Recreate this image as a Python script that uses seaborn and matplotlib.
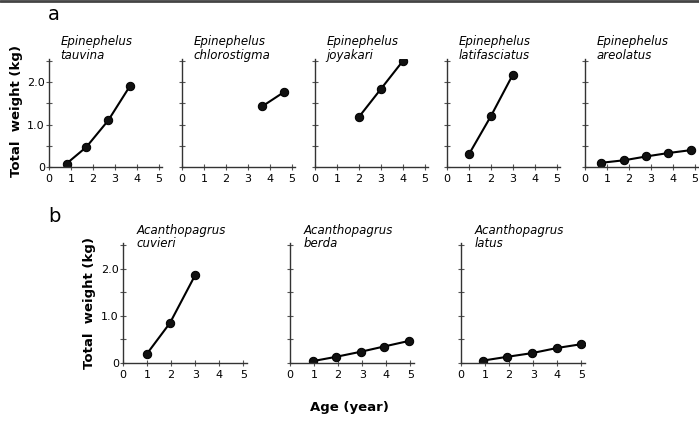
import numpy as np
import pandas as pd
import matplotlib
matplotlib.use("Agg")
import matplotlib.pyplot as plt
from matplotlib.lines import Line2D
import seaborn as sns

sns.set_style("ticks")
plt.rcParams['font.family'] = ['DejaVu Sans']
plt.rcParams['text.color'] = 'black'
plt.rcParams['xtick.color'] = 'black'
plt.rcParams['ytick.color'] = 'black'

# row a: Epinephelus
species_a = ["Epinephelus\ntauvina", "Epinephelus\nchlorostigma", "Epinephelus\njoyakari",
             "Epinephelus\nlatifasciatus", "Epinephelus\nareolatus"]
age_a = [
    [0.8, 1.7, 2.7, 3.7],
    [3.65, 4.65],
    [2, 3, 4],
    [1, 2, 3],
    [0.75, 1.8, 2.8, 3.8, 4.85],
]
weight_a = [
    [0.08, 0.47, 1.1, 1.92],
    [1.43, 1.77],
    [1.18, 1.84, 2.5],
    [0.3, 1.2, 2.18],
    [0.1, 0.16, 0.25, 0.33, 0.4],
]

# row b: Acanthopagrus
species_b = ["Acanthopagrus\ncuvieri", "Acanthopagrus\nberda", "Acanthopagrus\nlatus"]
age_b = [
    [1, 1.95, 3],
    [0.95, 1.9, 2.95, 3.9, 4.95],
    [0.9, 1.9, 2.95, 4.0, 5.0],
]
weight_b = [
    [0.2, 0.85, 1.87],
    [0.04, 0.13, 0.24, 0.35, 0.47],
    [0.05, 0.13, 0.21, 0.32, 0.4],
]

W, H = 699, 421
fig = plt.figure(figsize=(W / 100, H / 100), dpi=100)


def make_ax(x0, y0, w, h):
    # pixel box (left, bottom-of-axes from top, width, height)
    return fig.add_axes([x0 / W, (H - y0) / H, w / W, h / H])


def style_panel(ax, title, first, tx, ty):
    ax.set_xlim(0, 5.15)
    ax.set_ylim(0, 2.55)
    ax.set_xticks([0, 1, 2, 3, 4, 5])
    ax.set_xticklabels(["0", "1", "2", "3", "4", "5"])
    ax.set_yticks([0, 1.0, 2.0])
    ax.set_yticks([0.5, 1.5, 2.5], minor=True)
    if first:
        ax.set_yticklabels(["0", "1.0", "2.0"])
    else:
        ax.set_yticklabels([])
    ax.tick_params(axis="both", which="both", direction="inout", length=4,
                   width=0.8, labelsize=8, pad=3, color="#555555")
    ax.tick_params(axis="y", pad=1)
    for s in ["top", "right"]:
        ax.spines[s].set_visible(False)
    for s in ["left", "bottom"]:
        ax.spines[s].set_linewidth(1.0)
        ax.spines[s].set_color("#333333")
    ax.set_xlabel("")
    ax.set_ylabel("")
    ax.text(tx, ty, title, transform=ax.transAxes, ha="left", va="top",
            fontsize=8.5, style="italic", linespacing=1.05)


def draw(ax, ages, weights):
    df = pd.DataFrame({"age": ages, "weight": weights})
    sns.lineplot(data=df, x="age", y="weight", ax=ax, color="black", lw=1.5,
                 marker="o", markersize=6, markerfacecolor="#111111",
                 markeredgecolor="black")


lefts_a = [49, 182, 315, 447, 585]
for i in range(5):
    ax = make_ax(lefts_a[i], 167, 113, 108)
    draw(ax, age_a[i], weight_a[i])
    style_panel(ax, species_a[i], i == 0, 0.1, 1.22)

lefts_b = [123, 290, 461]
for i in range(3):
    ax = make_ax(lefts_b[i], 363, 124, 120)
    draw(ax, age_b[i], weight_b[i])
    style_panel(ax, species_b[i], i == 0, 0.11, 1.16)

fig.text(48 / W, 1 - 15 / H, "a", fontsize=14, va="center", ha="left")
fig.text(48 / W, 1 - 216 / H, "b", fontsize=14, va="center", ha="left")
fig.text(17 / W, 1 - 111 / H, "Total  weight (kg)", rotation=90, fontsize=9.5,
         fontweight="bold", va="center", ha="center")
fig.text(90 / W, 1 - 303 / H, "Total  weight (kg)", rotation=90, fontsize=9.5,
         fontweight="bold", va="center", ha="center")
fig.text(349 / W, 1 - 408 / H, "Age (year)", fontsize=9.5, fontweight="bold",
         va="center", ha="center")

fig.add_artist(Line2D([0, 1], [1 - 1 / H, 1 - 1 / H], transform=fig.transFigure,
                      color="#444444", lw=2))

fig.savefig("out.png", dpi=100)
